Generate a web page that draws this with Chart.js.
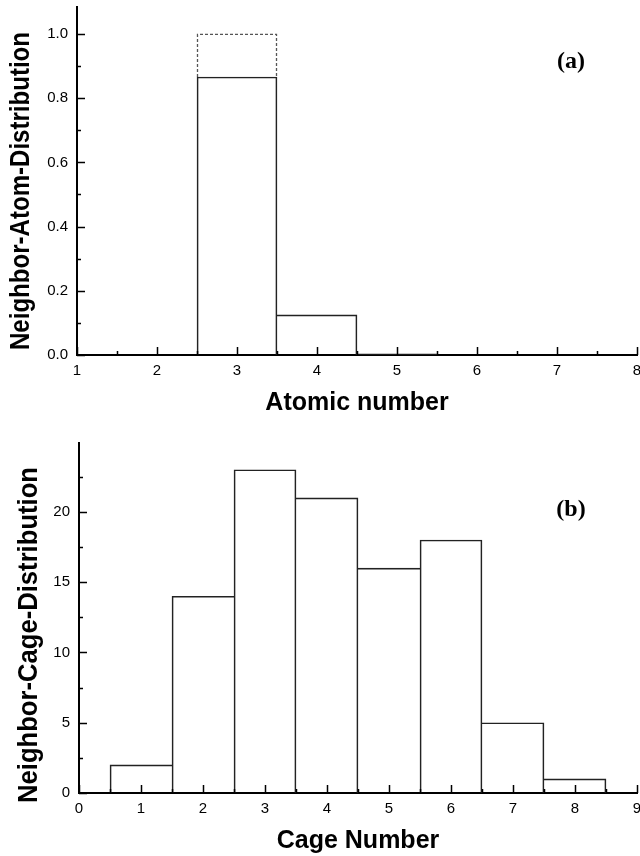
<!DOCTYPE html>
<html>
<head>
<meta charset="utf-8">
<script src="https://cdn.jsdelivr.net/npm/chart.js@4/dist/chart.umd.min.js"></script>
<style>
body { margin: 0; background: #fff; }
#wrap { position: relative; width: 640px; height: 856px; overflow: hidden; background: #fff; }
canvas { position: absolute; left: 0; }
#atomChart { top: 0; }
#cageChart { top: 428px; }
</style>
</head>
<body>
<div id="wrap">
  <canvas id="atomChart" width="640" height="428"></canvas>
  <canvas id="cageChart" width="640" height="428"></canvas>
</div>
<script>
// panel (a)
const atomNumbers = [3, 4, 5];
const atomShare = [0.866, 0.125, 0.004];
const atomRefNumbers = [3];
const atomRefShare = [1.0];
const atomXTicks = [1, 2, 3, 4, 5, 6, 7, 8];
const atomYTicks = [0, 0.2, 0.4, 0.6, 0.8, 1.0];

// panel (b)
const cageNumbers = [1, 2, 3, 4, 5, 6, 7, 8];
const cageCounts = [2, 14, 23, 21, 16, 18, 5, 1];
const cageXTicks = [0, 1, 2, 3, 4, 5, 6, 7, 8, 9];
const cageYTicks = [0, 5, 10, 15, 20];

const sansFont = "'Liberation Sans', Arial, Helvetica, sans-serif";
const serifFont = "'Liberation Serif', 'Times New Roman', serif";

// shared edges between neighbouring bars are drawn only once, by the taller bar
function edgeWidths(nums, vals) {
    return ctx => {
        const i = ctx.dataIndex;
        const v = vals[i];
        const prev = (i > 0 && nums[i - 1] === nums[i] - 1) ? vals[i - 1] : -1;
        const next = (i < vals.length - 1 && nums[i + 1] === nums[i] + 1) ? vals[i + 1] : -1;
        return { top: 1, bottom: 0, left: prev <= v ? 1 : 0, right: next < v ? 1 : 0 };
    };
}

// ticks pointing into the plot, plus y title, panel tag and dotted outline
const figureDecor = {
    id: 'figureDecor',
    beforeDatasetsDraw(chart) {
        const ctx = chart.ctx;
        chart.data.datasets.forEach((ds, i) => {
            if (!ds.dashedOutline) return;
            chart.getDatasetMeta(i).data.forEach(el => {
                const { x, y, base, width } = el.getProps(['x', 'y', 'base', 'width'], true);
                // stop the dotted sides where the solid bar at the same place begins
                let low = base;
                chart.data.datasets.forEach((other, j) => {
                    if (j === i) return;
                    chart.getDatasetMeta(j).data.forEach(o => {
                        if (Math.abs(o.x - x) < 1) low = Math.min(low, o.y);
                    });
                });
                ctx.save();
                ctx.strokeStyle = '#555';
                ctx.lineWidth = 1.3;
                ctx.setLineDash([3, 2]);
                ctx.beginPath();
                ctx.moveTo(x - width / 2 + 0.5, low);
                ctx.lineTo(x - width / 2 + 0.5, y + 0.5);
                ctx.lineTo(x + width / 2 - 0.5, y + 0.5);
                ctx.lineTo(x + width / 2 - 0.5, low);
                ctx.stroke();
                ctx.restore();
            });
        });
    },
    afterDraw(chart, args, opts) {
        const ctx = chart.ctx;
        const area = chart.chartArea;
        const xs = chart.scales.x;
        const ys = chart.scales.y;

        ctx.save();
        ctx.strokeStyle = '#000';
        ctx.lineWidth = 1.5;
        ctx.beginPath();
        const xStep = xs.ticks[1].value - xs.ticks[0].value;
        let k = 0;
        for (let v = xs.ticks[0].value; v <= xs.max + 1e-9; v += xStep / 2, k++) {
            const px = Math.round(xs.getPixelForValue(v)) + 0.5;
            const len = k % 2 === 0 ? 8 : 4;
            ctx.moveTo(px, area.bottom);
            ctx.lineTo(px, area.bottom - len);
        }
        const yStep = ys.ticks[1].value - ys.ticks[0].value;
        k = 0;
        for (let v = ys.ticks[0].value; v <= ys.max + 1e-9; v += yStep / 2, k++) {
            const py = Math.round(ys.getPixelForValue(v)) + 0.5;
            const len = k % 2 === 0 ? 8 : 4;
            ctx.moveTo(area.left, py);
            ctx.lineTo(area.left + len, py);
        }
        ctx.stroke();

        ctx.fillStyle = '#000';
        ctx.textAlign = 'center';
        ctx.textBaseline = 'middle';
        ctx.font = 'bold 24px ' + serifFont;
        ctx.fillText(opts.tag, opts.tagX, opts.tagY);

        ctx.translate(opts.titleX, opts.titleY);
        ctx.rotate(-Math.PI / 2);
        ctx.font = 'bold 27px ' + sansFont;
        ctx.fillText(opts.title, 0, 0, opts.titleWidth);
        ctx.restore();
    }
};

function makeChart(canvasId, cfg) {
    return new Chart(document.getElementById(canvasId), {
        type: 'bar',
        data: { datasets: cfg.datasets },
        plugins: [figureDecor],
        options: {
            responsive: false,
            animation: false,
            events: [],
            layout: { padding: { top: cfg.top, right: 3, left: 0, bottom: 0 } },
            datasets: { bar: { grouped: false, barPercentage: 1, categoryPercentage: 1 } },
            plugins: {
                legend: { display: false },
                tooltip: { enabled: false },
                figureDecor: cfg.decor
            },
            scales: {
                x: {
                    type: 'linear',
                    offset: false,
                    min: cfg.xTicks[0],
                    max: cfg.xTicks[cfg.xTicks.length - 1],
                    grid: { display: false, drawTicks: false },
                    border: { display: true, color: '#000', width: 2 },
                    ticks: {
                        padding: cfg.xPad, color: '#000', autoSkip: false, maxRotation: 0,
                        font: { family: sansFont, size: 15 },
                        callback: v => String(v)
                    },
                    title: {
                        display: true, text: cfg.xTitle, color: '#000',
                        font: { family: sansFont, size: 25, weight: 'bold' },
                        padding: { top: 0, bottom: cfg.xTitlePad }
                    },
                    afterBuildTicks: s => { s.ticks = cfg.xTicks.map(v => ({ value: v })); },
                    afterFit: s => { s.height = cfg.xHeight; s.paddingLeft = 0; s.paddingRight = 0; }
                },
                y: {
                    min: 0,
                    max: cfg.yMax,
                    grid: { display: false, drawTicks: false },
                    border: { display: true, color: '#000', width: 2 },
                    ticks: {
                        padding: cfg.yPad, color: '#000',
                        font: { family: sansFont, size: 15 },
                        callback: cfg.yFormat
                    },
                    afterBuildTicks: s => { s.ticks = cfg.yTicks.map(v => ({ value: v })); },
                    afterFit: s => { s.width = cfg.yWidth; s.paddingTop = 0; s.paddingBottom = 0; }
                }
            }
        }
    });
}

makeChart('atomChart', {
    datasets: [
        {
            label: 'total',
            data: atomRefNumbers.map((n, i) => ({ x: n, y: atomRefShare[i] })),
            backgroundColor: 'rgba(0,0,0,0)',
            borderWidth: 0,
            dashedOutline: true,
            order: 2
        },
        {
            label: 'Neighbor atoms',
            data: atomNumbers.map((n, i) => ({ x: n, y: atomShare[i] })),
            backgroundColor: 'rgba(255,255,255,0)',
            borderColor: '#222',
            borderWidth: edgeWidths(atomNumbers, atomShare),
            order: 1
        }
    ],
    top: 7, xHeight: 73, yWidth: 77, xPad: 7, yPad: 9, xTitlePad: 10,
    xTicks: atomXTicks, yTicks: atomYTicks, yMax: 1.084,
    yFormat: v => v.toFixed(1),
    xTitle: 'Atomic number',
    decor: { tag: '(a)', tagX: 571, tagY: 62, title: 'Neighbor-Atom-Distribution', titleX: 22, titleY: 191, titleWidth: 318 }
});

makeChart('cageChart', {
    datasets: [
        {
            label: 'Neighbor cages',
            data: cageNumbers.map((n, i) => ({ x: n, y: cageCounts[i] })),
            backgroundColor: 'rgba(255,255,255,0)',
            borderColor: '#222',
            borderWidth: edgeWidths(cageNumbers, cageCounts)
        }
    ],
    top: 15, xHeight: 63, yWidth: 79, xPad: 6.5, yPad: 9, xTitlePad: 0,
    xTicks: cageXTicks, yTicks: cageYTicks, yMax: 24.9,
    yFormat: v => String(v),
    xTitle: 'Cage Number',
    decor: { tag: '(b)', tagX: 571, tagY: 82, title: 'Neighbor-Cage-Distribution', titleX: 30, titleY: 207, titleWidth: 336 }
});
</script>
</body>
</html>
